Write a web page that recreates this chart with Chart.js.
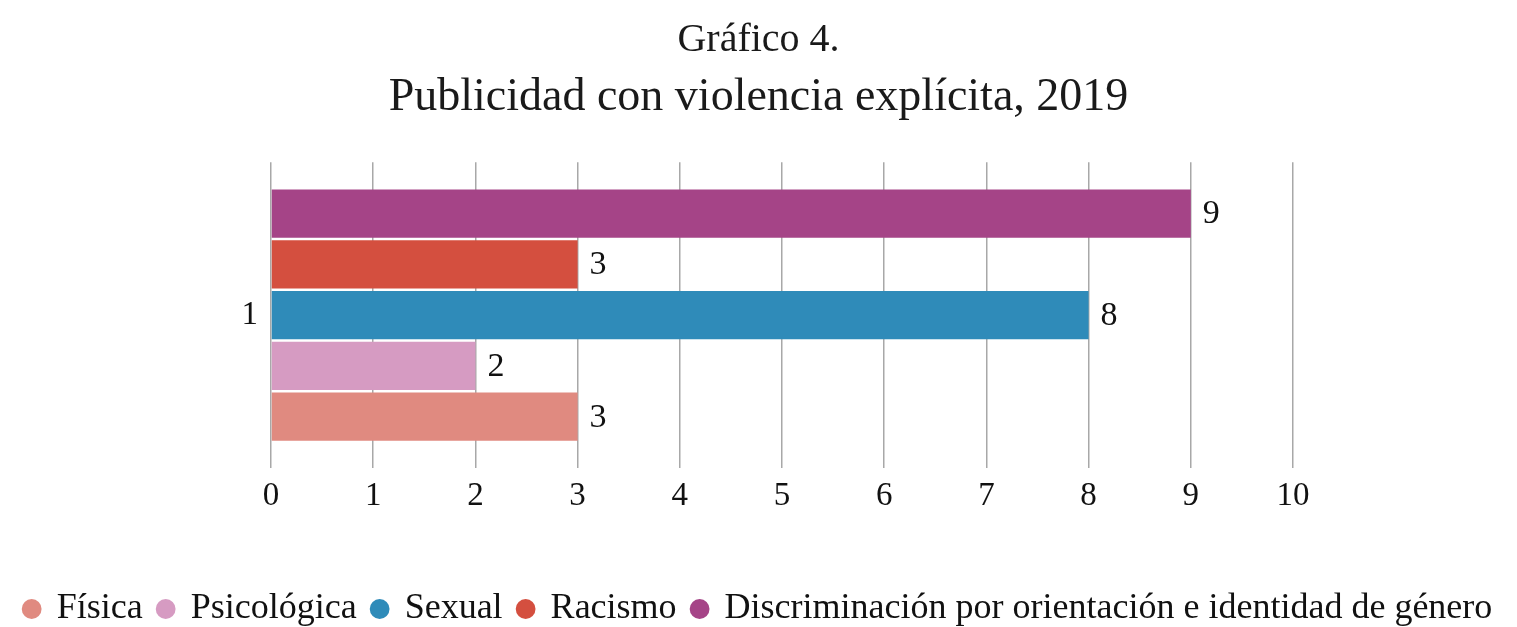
<!DOCTYPE html>
<html>
<head>
<meta charset="utf-8">
<script src="https://cdn.jsdelivr.net/npm/chart.js@4"></script>
<style>
    body { margin: 0; background: #fff; }
</style>
</head>
<body>
<canvas id="grafico4" width="1517" height="627"></canvas>
<script>
// datos
const categories = ['1'];
const seriesNames = ['Física', 'Psicológica', 'Sexual', 'Racismo', 'Discriminación por orientación e identidad de género'];
const seriesValues = [3, 2, 8, 3, 9];
const seriesColors = ['#e08a80', '#d69bc2', '#2f8bb9', '#d44f3f', '#a54487'];
const xTicks = [0, 1, 2, 3, 4, 5, 6, 7, 8, 9, 10];

const serif = "'Liberation Serif', 'Times New Roman', serif";

// Chart.js pone el primer dataset arriba: los invertimos y la leyenda se invierte tambien
let datasets = [];
for (let i = seriesNames.length - 1; i >= 0; i--) {
    datasets.push({
        label: seriesNames[i],
        data: [seriesValues[i]],
        backgroundColor: seriesColors[i],
        borderWidth: 0,
        categoryPercentage: 0.83,
        barPercentage: 0.95
    });
}

/* etiquetas de valor a la derecha de cada barra */
const valueLabels = {
    id: 'valueLabels',
    afterDatasetsDraw: function (chart) {
        const ctx = chart.ctx;
        ctx.save();
        ctx.font = '34px ' + serif;
        ctx.fillStyle = '#111';
        ctx.textAlign = 'left';
        ctx.textBaseline = 'middle';
        chart.data.datasets.forEach(function (ds, i) {
            chart.getDatasetMeta(i).data.forEach(function (bar, j) {
                ctx.fillText(ds.data[j], bar.x + 12, bar.y + 1);
            });
        });
        ctx.restore();
    }
};

var ctx = document.getElementById('grafico4').getContext('2d');
var myChart = new Chart(ctx, {
    type: 'bar',
    data: {
        labels: categories,
        datasets: datasets
    },
    options: {
        indexAxis: 'y',
        responsive: false,
        animation: false,
        layout: {
            padding: { left: 0, right: 0, top: 0, bottom: -10 }
        },
        scales: {
            x: {
                min: xTicks[0],
                max: xTicks[xTicks.length - 1],
                afterBuildTicks: function (scale) {
                    scale.ticks = xTicks.map(function (v) { return { value: v }; });
                },
                afterFit: function (scale) {
                    scale.height = 107;
                },
                grid: {
                    color: '#a8a8a8',
                    lineWidth: 1.5,
                    drawTicks: false
                },
                border: { display: false },
                ticks: {
                    padding: 9,
                    color: '#111',
                    font: { family: serif, size: 33 }
                }
            },
            y: {
                afterFit: function (scale) {
                    scale.width = 271;
                },
                grid: { display: false },
                border: { display: false },
                ticks: {
                    padding: 5,
                    color: '#111',
                    font: { family: serif, size: 33 }
                }
            },
            // eje vacio a la derecha, solo para dejar el margen
            margen: {
                axis: 'y',
                type: 'category',
                position: 'right',
                afterFit: function (scale) {
                    scale.width = 224;
                },
                grid: { display: false },
                border: { display: false },
                ticks: { display: false }
            }
        },
        plugins: {
            title: {
                display: true,
                text: 'Gráfico 4.',
                color: '#1a1a1a',
                font: { family: serif, size: 40, weight: 'normal', lineHeight: 1.2 },
                padding: { top: 16, bottom: 0 }
            },
            subtitle: {
                display: true,
                text: 'Publicidad con violencia explícita, 2019',
                color: '#1a1a1a',
                font: { family: serif, size: 46, weight: 'normal', lineHeight: 1.2 },
                padding: { top: 6, bottom: 37 }
            },
            legend: {
                position: 'bottom',
                reverse: true,
                labels: {
                    usePointStyle: true,
                    pointStyle: 'circle',
                    boxWidth: 14,
                    boxHeight: 14,
                    padding: 16,
                    color: '#111',
                    font: { family: serif, size: 36 }
                }
            },
            tooltip: { enabled: false }
        }
    },
    plugins: [valueLabels]
});
</script>
</body>
</html>
